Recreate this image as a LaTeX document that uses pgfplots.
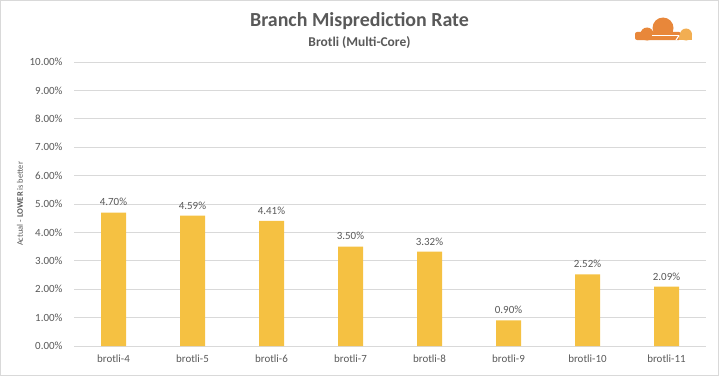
\documentclass[border=0pt]{standalone}
\usepackage{pgfplots}
\pgfplotsset{compat=1.18}
\usepackage{fontspec}
\setmainfont{Carlito}
\definecolor{barc}{HTML}{F5C142}
\definecolor{txt}{HTML}{595959}
\definecolor{gridc}{HTML}{D9D9D9}
\definecolor{cfo}{HTML}{E8873A}
\definecolor{cfl}{HTML}{F2AE52}
\begin{document}
\begin{tikzpicture}[x=1bp,y=1bp]
\draw[gridc, line width=1bp] (0.5,0.5) rectangle (718.5,375.5);
\node[txt, font=\fontsize{20}{22}\selectfont\bfseries] at (359.5,355) {Branch Misprediction Rate};
\node[txt, font=\fontsize{13.5}{15}\selectfont\bfseries] at (359.5,333) {Brotli (Multi-Core)};
% logo
\fill[cfo] (663,348) circle (10.5);
\fill[cfo] (647,342) circle (6.5);
\fill[cfo, rounded corners=2bp] (635,336) rectangle (681,344);
\fill[cfl] (686,341.5) circle (6);
\fill[cfl] (679,336) rectangle (692,341.5);
\draw[white, line width=1.1bp] (652,340.5) -- (679,340.5);
\draw[white, line width=1.1bp] (676,336) -- (679,340.5);
\begin{axis}[
  at={(74bp,30bp)}, anchor=south west,
  scale only axis, width=632bp, height=284bp,
  ymin=0, ymax=10, ytick={0,1,...,10},
  xmin=-0.5, xmax=7.5, xtick=data,
  xticklabels={brotli-4,brotli-5,brotli-6,brotli-7,brotli-8,brotli-9,brotli-10,brotli-11},
  ybar, bar width=25bp,
  ymajorgrids, grid style={gridc, line width=0.8bp},
  axis x line*=bottom, axis y line*=left,
  x axis line style={gridc, line width=0.8bp, -},
  y axis line style={draw=none},
  major tick length=0pt,
  tick label style={txt, font=\fontsize{11}{13}\selectfont},
  yticklabel={\pgfmathprintnumber[fixed,fixed zerofill,precision=2]{\tick}\%},
  /pgf/number format/assume math mode=true,
  yticklabel style={xshift=-8bp},
  xticklabel style={yshift=-5bp},
  ylabel={Actual - \textbf{LOWER} is better},
  ylabel style={txt, font=\fontsize{8.5}{10}\selectfont, at={(axis description cs:-0.0854,0.5)}, anchor=center},
  nodes near coords={\pgfmathprintnumber[fixed,fixed zerofill,precision=2]{\pgfplotspointmeta}\%},
  nodes near coords style={txt, font=\fontsize{11}{13}\selectfont, yshift=3bp},
]
\addplot[fill=barc, draw=none] coordinates {(0,4.70) (1,4.59) (2,4.41) (3,3.50) (4,3.32) (5,0.90) (6,2.52) (7,2.09)};
\end{axis}
\end{tikzpicture}
\end{document}
